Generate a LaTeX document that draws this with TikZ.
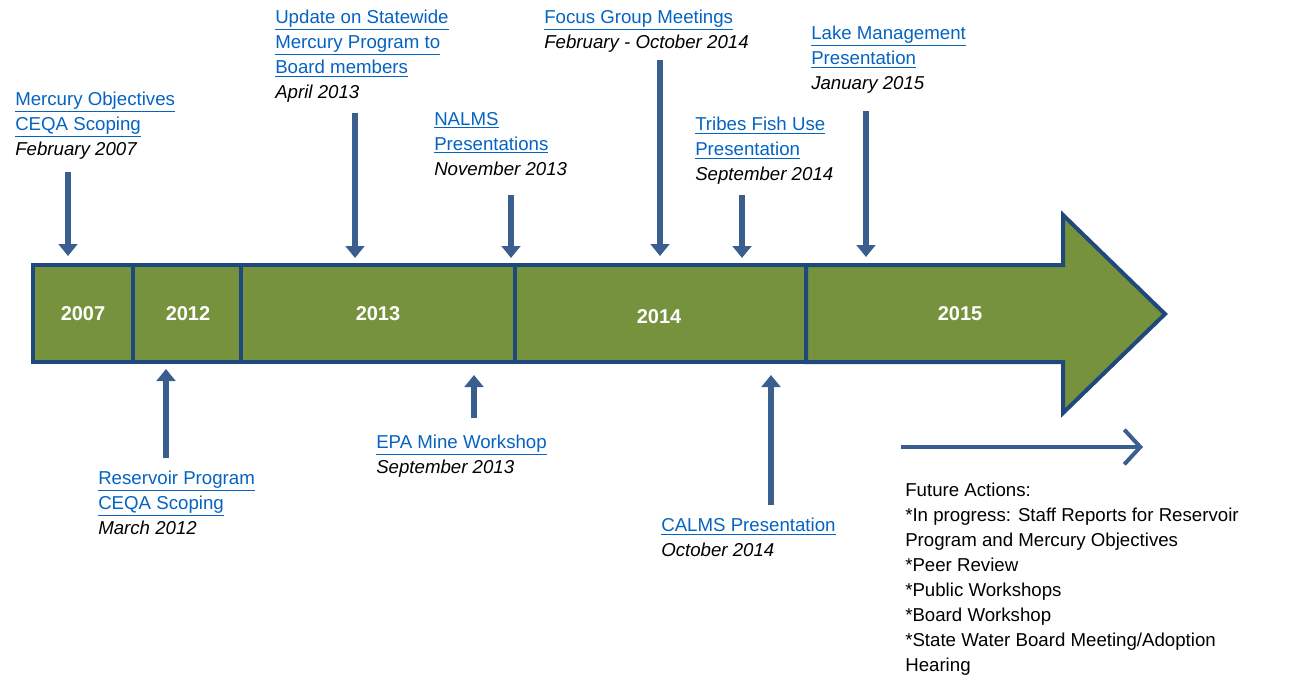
\documentclass[tikz,border=0pt]{standalone}
\usepackage{fontspec}
\setmainfont{Liberation Sans}
\usetikzlibrary{arrows.meta}
\definecolor{bargreen}{RGB}{119,146,60}
\definecolor{barblue}{RGB}{31,73,125}
\definecolor{pinblue}{RGB}{58,95,143}
\definecolor{linkblue}{RGB}{5,99,193}
\newcommand{\lnk}[1]{\textcolor{linkblue}{\underline{#1}}}
\begin{document}
\begin{tikzpicture}[x=0.75pt,y=-0.75pt,
  yearbox/.style={draw=barblue,line width=3pt,fill=bargreen},
  yeartext/.style={text=white,font=\fontsize{15}{18}\selectfont\bfseries},
  pin/.style={draw=pinblue,line width=4.5pt,-{Triangle[width=14pt,length=9pt]}},
  note/.style={anchor=north west,inner sep=0pt,align=left,font=\fontsize{14}{18.75}\selectfont}]
\useasboundingbox (0,0) rectangle (1302,692);
% timeline bar
\draw[yearbox] (33,265) rectangle (133,362);
\draw[yearbox] (133,265) rectangle (241,362);
\draw[yearbox] (241,265) rectangle (515,362);
\draw[yearbox] (515,265) rectangle (806,362);
\draw[yearbox] (806,265) -- (1063,265) -- (1063,215) -- (1165,314) -- (1063,413) -- (1063,362) -- (806,362) -- cycle;
\node[yeartext] (y2007) at (83,314) {2007};
\node[yeartext] (y2012) at (188,314) {2012};
\node[yeartext] (y2013) at (378,314) {2013};
\node[yeartext] (y2014) at (659,317) {2014};
\node[yeartext] (y2015) at (960,314) {2015};
% events above
\node[note] (mercury) at (15,92) {\lnk{Mercury Objectives}\\\lnk{CEQA Scoping}\\\textit{February 2007}};
\node[note] (update) at (275,10) {\lnk{Update on Statewide}\\\lnk{Mercury Program to}\\\lnk{Board members}\\\textit{April 2013}};
\node[note] (nalms) at (434,112) {\lnk{NALMS}\\\lnk{Presentations}\\\textit{November 2013}};
\node[note] (focus) at (544,10) {\lnk{Focus Group Meetings}\\\textit{February - October 2014}};
\node[note] (tribes) at (695,117) {\lnk{Tribes Fish Use}\\\lnk{Presentation}\\\textit{September 2014}};
\node[note] (lake) at (811,26) {\lnk{Lake Management}\\\lnk{Presentation}\\\textit{January 2015}};
% events below
\node[note] (reservoir) at (98,471) {\lnk{Reservoir Program}\\\lnk{CEQA Scoping}\\\textit{March 2012}};
\node[note] (epa) at (376,435) {\lnk{EPA Mine Workshop}\\\textit{September 2013}};
\node[note] (calms) at (661,518) {\lnk{CALMS Presentation}\\\textit{October 2014}};
\node[note] (future) at (905,483) {Future Actions:\\*In progress: Staff Reports for Reservoir\\Program and Mercury Objectives\\*Peer Review\\*Public Workshops\\*Board Workshop\\*State Water Board Meeting/Adoption\\Hearing};
% pins
\coordinate (pa) at (68,172); \coordinate (ta) at (68,256);
\coordinate (pb) at (355,113); \coordinate (tb) at (355,258);
\coordinate (pc) at (511,195); \coordinate (tc) at (511,258);
\coordinate (pd) at (660,60); \coordinate (td) at (660,256);
\coordinate (pe) at (742,195); \coordinate (te) at (742,258);
\coordinate (pf) at (866,111); \coordinate (tf) at (866,257);
\coordinate (pg) at (166,458); \coordinate (tg) at (166,369);
\coordinate (ph) at (474,418); \coordinate (th) at (474,375);
\coordinate (pi) at (771,505); \coordinate (ti) at (771,375);
\foreach \p in {a,b,c,d,e,f,g,h,i} \draw[pin] (p\p) -- (t\p);
% future arrow
\coordinate (fs) at (901,447); \coordinate (fe) at (1143,447);
\draw[draw=pinblue,line width=3pt,-{Straight Barb[length=12pt,width=26pt]}] (fs) -- (fe);
\end{tikzpicture}
\end{document}
